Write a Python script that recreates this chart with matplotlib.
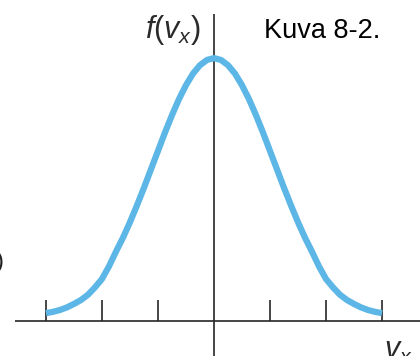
#!/usr/bin/env python3
"""Velocity-component distribution f(v_x) sketch (Kuva 8-2)."""

import matplotlib
matplotlib.use("Agg")
import matplotlib.pyplot as plt

plt.rcParams["font.family"] = ["Liberation Sans", "DejaVu Sans"]
plt.rcParams["mathtext.fontset"] = "custom"
plt.rcParams["mathtext.rm"] = "Liberation Sans"
plt.rcParams["mathtext.it"] = "Liberation Sans:italic"

# v_x in tick units, f(v_x) relative to the peak
vx = [-3.0, -2.875, -2.75, -2.625, -2.5, -2.375, -2.25, -2.125,
      -2.0, -1.875, -1.75, -1.625, -1.5, -1.375, -1.25, -1.125,
      -1.0, -0.875, -0.75, -0.625, -0.5, -0.375, -0.25, -0.125,
      0.0,
      0.125, 0.25, 0.375, 0.5, 0.625, 0.75, 0.875, 1.0,
      1.125, 1.25, 1.375, 1.5, 1.625, 1.75, 1.875, 2.0,
      2.125, 2.25, 2.375, 2.5, 2.625, 2.75, 2.875, 3.0]
fvx = [0.030, 0.035, 0.042, 0.052, 0.065, 0.080, 0.100, 0.128,
       0.160, 0.208, 0.264, 0.317, 0.376, 0.440, 0.507, 0.577,
       0.647, 0.717, 0.783, 0.844, 0.897, 0.941, 0.973, 0.993,
       1.000,
       0.993, 0.973, 0.941, 0.897, 0.844, 0.783, 0.717, 0.647,
       0.577, 0.507, 0.440, 0.376, 0.317, 0.264, 0.208, 0.160,
       0.128, 0.100, 0.080, 0.065, 0.052, 0.042, 0.035, 0.030]
ticks = [-3, -2, -1, 1, 2, 3]

CURVE = "#5cb6e6"
INK = "#262626"

fig = plt.figure(figsize=(4.2, 3.56), dpi=100)
ax = fig.add_axes([0, 0, 1, 1])
ax.set_xlim(-3.821, 3.679)
ax.set_ylim(-0.133, 1.221)
ax.axis("off")

# axes drawn by hand, crossing at the origin
ax.plot([-3.554, 3.679], [0, 0], color=INK, lw=1.2, solid_capstyle="butt")
ax.plot([0, 0], [-0.133, 1.167], color=INK, lw=1.2, solid_capstyle="butt")
ax.vlines(ticks, 0, 0.08, color=INK, lw=1.2)

ax.plot(vx, fvx, color=CURVE, lw=4.5, solid_capstyle="butt",
        solid_joinstyle="round", zorder=3)

ax.text(-0.74, 1.105, r"$f(v_x)$", fontsize=22, ha="center", va="center", color="#2a2a2a")
ax.text(0.9, 1.103, "Kuva 8-2.", fontsize=19.5, ha="left", va="center", color="black")
ax.text(3.04, -0.115, r"$v_x$", fontsize=22, ha="left", va="center", color="#2a2a2a")
ax.text(-3.76, 0.225, ")", fontsize=17, ha="right", va="center", color="#222222")

fig.savefig("out.png", dpi=100)
plt.close(fig)
